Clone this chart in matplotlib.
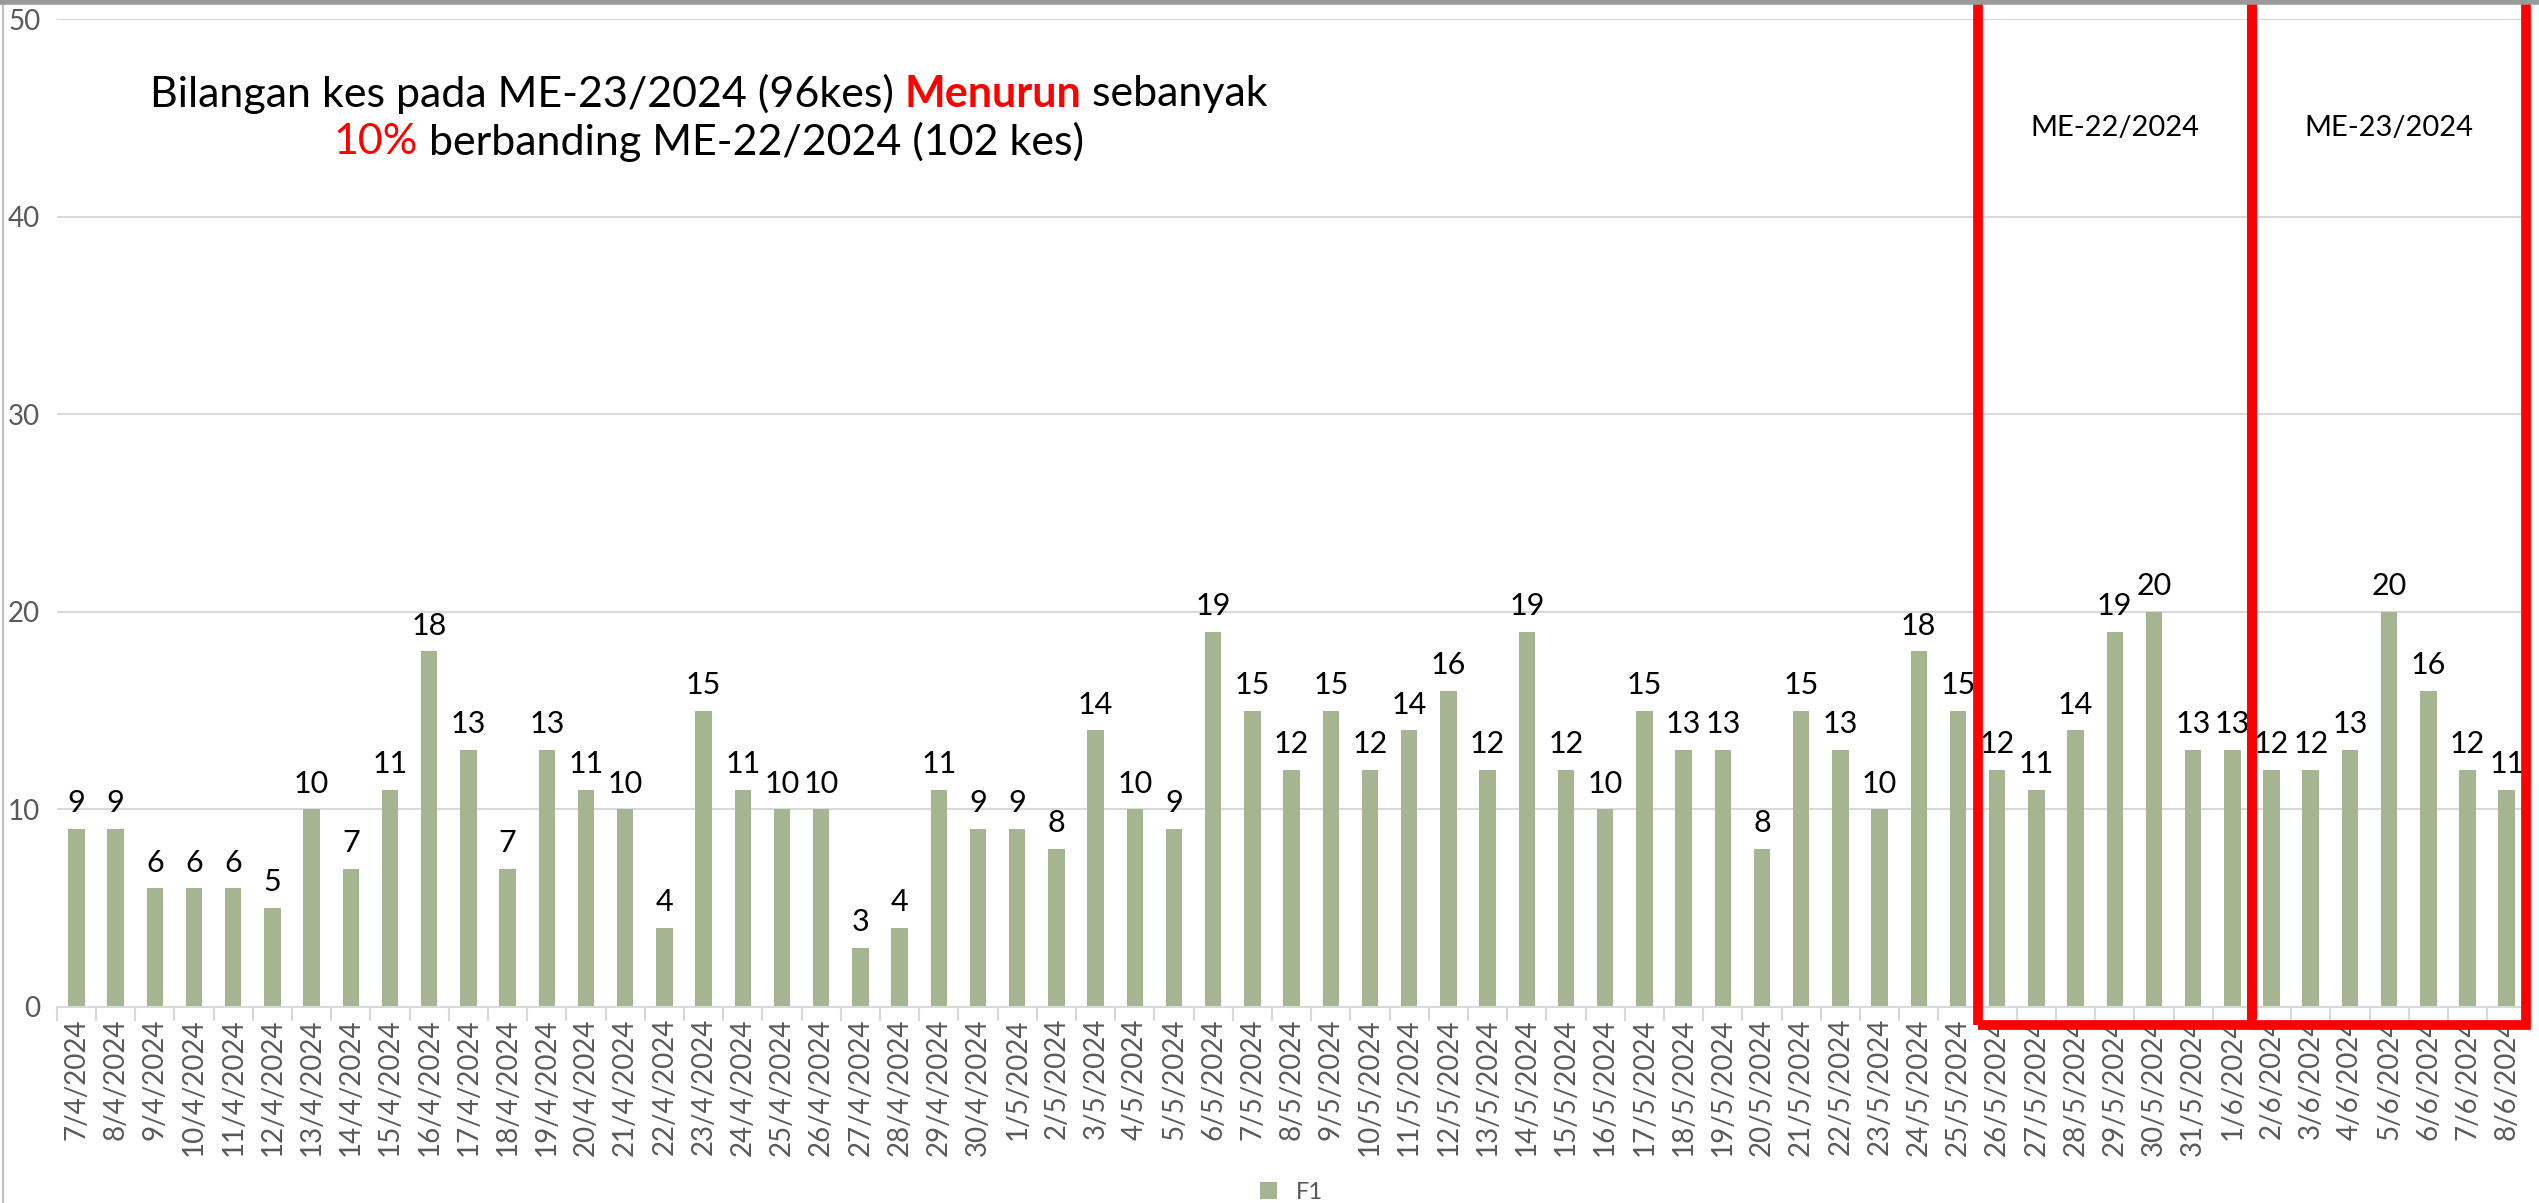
import numpy as np
import matplotlib.pyplot as plt
from matplotlib.patches import Rectangle

# Data
dates = ['7/4/2024', '8/4/2024', '9/4/2024', '10/4/2024', '11/4/2024', '12/4/2024',
         '13/4/2024', '14/4/2024', '15/4/2024', '16/4/2024', '17/4/2024', '18/4/2024',
         '19/4/2024', '20/4/2024', '21/4/2024', '22/4/2024', '23/4/2024', '24/4/2024',
         '25/4/2024', '26/4/2024', '27/4/2024', '28/4/2024', '29/4/2024', '30/4/2024',
         '1/5/2024', '2/5/2024', '3/5/2024', '4/5/2024', '5/5/2024', '6/5/2024',
         '7/5/2024', '8/5/2024', '9/5/2024', '10/5/2024', '11/5/2024', '12/5/2024',
         '13/5/2024', '14/5/2024', '15/5/2024', '16/5/2024', '17/5/2024', '18/5/2024',
         '19/5/2024', '20/5/2024', '21/5/2024', '22/5/2024', '23/5/2024', '24/5/2024',
         '25/5/2024', '26/5/2024', '27/5/2024', '28/5/2024', '29/5/2024', '30/5/2024',
         '31/5/2024', '1/6/2024', '2/6/2024', '3/6/2024', '4/6/2024', '5/6/2024',
         '6/6/2024', '7/6/2024', '8/6/2024']
cases = [9, 9, 6, 6, 6, 5, 10, 7, 11, 18, 13, 7, 13, 11, 10, 4, 15, 11, 10, 10,
         3, 4, 11, 9, 9, 8, 14, 10, 9, 19, 15, 12, 15, 12, 14, 16, 12, 19, 12, 10,
         15, 13, 13, 8, 15, 13, 10, 18, 15, 12, 11, 14, 19, 20, 13, 13, 12, 12, 13, 20,
         16, 12, 11]
series_name = 'F1'
weeks = ['ME-22/2024', 'ME-23/2024']
week_start = ['26/5/2024', '2/6/2024']
week_end = ['1/6/2024', '8/6/2024']

bar_color = '#A5B592'
grey = '#595959'

fig = plt.figure(figsize=(25.39, 12.03), dpi=100)
ax = fig.add_axes([0.0224, 0.163, 0.9726, 0.821])

x = np.arange(len(dates))
ax.bar(x, cases, width=0.42, color=bar_color, label=series_name, zorder=2)
for xi, v in zip(x, cases):
    ax.text(xi, v + 0.6, str(v), ha='center', va='bottom', fontsize=22,
            color='black', family='Lato')

ax.set_xlim(-0.5, len(dates) - 0.5)
ax.set_ylim(0, 50)
ax.set_yticks(range(0, 51, 10))
ax.yaxis.grid(True, color='#D9D9D9', linewidth=1.5, zorder=0)
ax.set_axisbelow(True)
ax.tick_params(axis='y', length=0, labelsize=20, labelcolor=grey, pad=12)
for lab in ax.get_yticklabels():
    lab.set_family('Lato')

ax.set_xticks(x)
ax.set_xticklabels(dates, rotation=90, fontsize=20, color=grey, family='Lato')
ax.tick_params(axis='x', length=0, pad=8)
# tick marks between categories
ax.set_xticks(np.arange(-0.5, len(dates), 1), minor=True)
ax.tick_params(axis='x', which='minor', length=10, color='#D9D9D9', width=1.5)

for s in ['top', 'right', 'left']:
    ax.spines[s].set_visible(False)
ax.spines['bottom'].set_color('#D9D9D9')
ax.spines['bottom'].set_linewidth(1.5)

# red boxes around the two weeks
for name, a, b in zip(weeks, week_start, week_end):
    i0 = dates.index(a) - 0.5
    i1 = dates.index(b) + 0.5
    ax.add_patch(Rectangle((i0, -0.9), i1 - i0, 52, fill=False, edgecolor='red',
                           linewidth=7, clip_on=False, zorder=5))
    ax.text((i0 + i1) / 2, 44.5, name, ha='center', va='center', fontsize=21,
            color='black', family='Lato')

# title with coloured words
lines = [[('Bilangan kes pada ME-23/2024 (96kes) ', 'black', 'normal'),
          ('Menurun', 'red', 'bold'),
          (' sebanyak', 'black', 'normal')],
         [('10%', 'red', 'normal'),
          (' berbanding ME-22/2024 (102 kes)', 'black', 'normal')]]
cx = 0.264
line_y = [0.924, 0.876]
renderer = fig.canvas.get_renderer()
for parts, ly in zip(lines, line_y):
    texts = []
    for s, c, w in parts:
        t = ax.text(0, ly, s, transform=ax.transAxes, fontsize=31, color=c,
                    fontweight=w, family='Lato', va='center', ha='left')
        texts.append(t)
    widths = [t.get_window_extent(renderer).width for t in texts]
    total = sum(widths)
    ax_w = ax.get_window_extent(renderer).width
    start = cx - total / 2 / ax_w
    for t, w in zip(texts, widths):
        t.set_x(start)
        start += w / ax_w

ax.legend(loc='lower center', bbox_to_anchor=(0.5, -0.22), frameon=False,
          labelcolor=grey, handlelength=0.7, handleheight=0.7,
          prop={'family': 'Lato', 'size': 17})

# left border and top shadow of the slide
fig.add_artist(plt.Line2D([0.001, 0.001], [0, 1], color='#BFBFBF', linewidth=1.5))
fig.add_artist(plt.Line2D([0, 1], [0.998, 0.998], color='#9A9A9A', linewidth=4))

fig.savefig('out.png', dpi=100)
